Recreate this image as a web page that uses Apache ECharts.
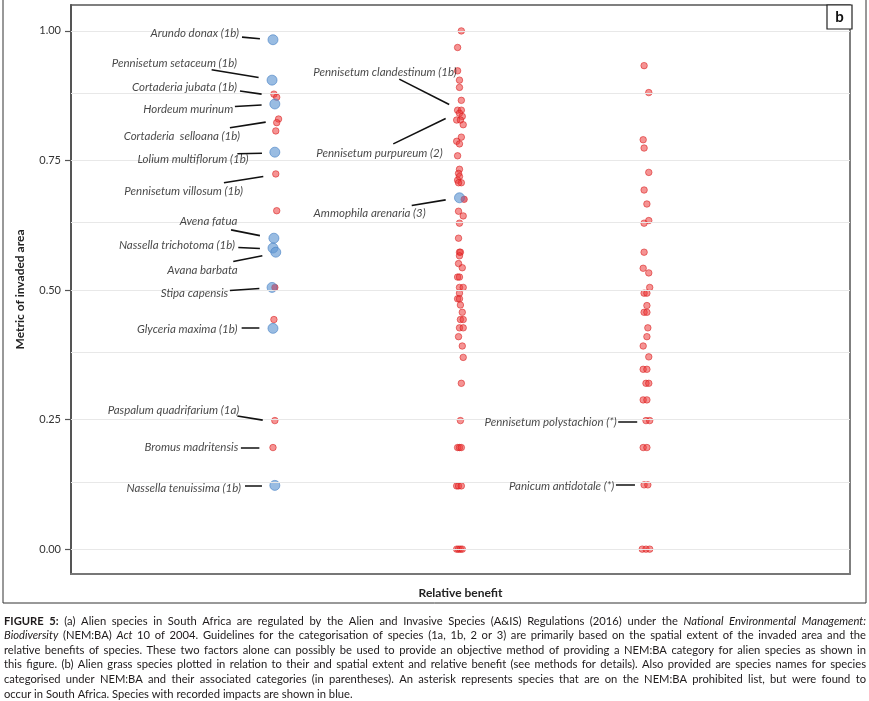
<!DOCTYPE html>
<html><head><meta charset="utf-8">
<script src="https://cdn.jsdelivr.net/npm/echarts@6/dist/echarts.min.js"></script>
<style>html,body{margin:0;padding:0;background:#fff}#c{width:869px;height:701px}</style>
</head><body><div id="c"></div>
<script>
// ---- data ----
const yTicks = [0, 0.25, 0.5, 0.75, 1.0];
const gridLevels = [0, 0.125, 0.25, 0.375, 0.5, 0.625, 0.75, 0.875, 1.0];

// species with recorded impacts (blue): [relative benefit (jittered), metric of invaded area]
const blueValues = [
  [1.00,0.983],[0.995,0.905],[1.01,0.859],[1.01,0.766],[1.005,0.600],
  [1.00,0.581],[1.015,0.573],[0.995,0.505],[1.00,0.426],[1.01,0.123],
  [2.00,0.678]
];
// other species (red)
const redCol1 = [
  [1.005,0.878],[1.02,0.872],[1.03,0.830],[1.02,0.823],[1.015,0.807],[1.015,0.724],
  [1.02,0.653],[1.01,0.505],[1.005,0.443],[1.01,0.248],[1.00,0.196]
];
const redCol2 = [
  [2.01,1.00],[1.99,0.968],[1.99,0.923],[2.00,0.905],[2.00,0.891],[2.01,0.866],
  [1.99,0.847],[2.01,0.847],[2.00,0.841],[2.015,0.835],[1.985,0.828],[2.005,0.828],
  [2.02,0.819],[2.01,0.795],[1.985,0.787],[2.00,0.782],[1.99,0.759],[2.00,0.733],
  [1.995,0.725],[2.00,0.719],[1.99,0.712],[2.01,0.707],[1.995,0.707],[2.025,0.675],
  [1.995,0.652],[2.02,0.643],[2.00,0.629],[1.995,0.600],[2.00,0.573],[2.005,0.573],
  [2.00,0.566],[1.995,0.551],[2.015,0.543],[1.99,0.525],[2.00,0.525],[2.00,0.505],
  [2.02,0.505],[2.00,0.494],[1.99,0.483],[2.00,0.483],[2.005,0.471],[2.015,0.457],
  [2.005,0.443],[2.02,0.443],[2.00,0.427],[2.02,0.427],[1.995,0.410],[2.015,0.392],
  [2.02,0.370],[2.01,0.320],[2.005,0.248],[1.99,0.196],[2.00,0.196],[2.01,0.196],
  [1.985,0.122],[1.995,0.122],[2.01,0.122],[1.985,0.0],[1.995,0.0],[2.005,0.0],[2.015,0.0]
];
const redCol3 = [
  [2.99,0.933],[3.015,0.881],[2.985,0.790],[2.99,0.774],[3.015,0.727],[2.99,0.693],
  [3.005,0.666],[2.99,0.629],[3.015,0.634],[2.99,0.573],[2.985,0.542],[3.015,0.533],
  [3.02,0.505],[2.99,0.494],[3.005,0.494],[3.005,0.470],[2.99,0.457],[3.005,0.457],
  [3.01,0.427],[3.005,0.410],[2.985,0.392],[3.015,0.371],[2.985,0.347],[3.005,0.347],
  [3.00,0.320],[3.015,0.320],[2.985,0.288],[3.005,0.288],[3.00,0.248],[3.02,0.248],
  [2.985,0.196],[3.005,0.196],[2.99,0.124],[3.01,0.124],[2.98,0.0],[3.00,0.0],[3.02,0.0]
];

// species annotations (data coordinates)
const annoNames = [
  "Arundo donax (1b)","Pennisetum setaceum (1b)","Cortaderia jubata (1b)","Hordeum murinum",
  "Cortaderia  selloana (1b)","Lolium multiflorum (1b)","Pennisetum villosum (1b)","Avena fatua",
  "Nassella trichotoma (1b)","Avana barbata","Stipa capensis","Glyceria maxima (1b)",
  "Paspalum quadrifarium (1a)","Bromus madritensis","Nassella tenuissima (1b)",
  "Pennisetum clandestinum (1b)","Pennisetum purpureum (2)","Ammophila arenaria (3)",
  "Pennisetum polystachion (*)","Panicum antidotale (*)"
];
const annoAnchors = [
  [0.818,0.996],[0.807,0.938],[0.807,0.891],[0.787,0.849],[0.823,0.797],[0.868,0.752],
  [0.839,0.691],[0.809,0.632],[0.796,0.586],[0.811,0.539],[0.760,0.494],[0.809,0.424],
  [0.819,0.268],[0.814,0.196],[0.828,0.117],[1.985,0.921],[1.910,0.764],[1.819,0.649],
  [2.843,0.245],[2.830,0.122]
];
const leaderFrom = [
  [0.834,0.988],[0.671,0.925],[0.823,0.884],[0.796,0.854],[0.769,0.813],[0.809,0.763],
  [0.737,0.707],[0.775,0.616],[0.814,0.582],[0.787,0.555],[0.769,0.499],[0.832,0.427],
  [0.809,0.257],[0.828,0.196],[0.850,0.122],[1.677,0.907],[1.645,0.782],[1.744,0.663],
  [2.851,0.245],[2.839,0.124]
];
const leaderTo = [
  [0.930,0.985],[0.923,0.910],[0.939,0.878],[0.939,0.857],[0.961,0.824],[0.941,0.764],
  [0.948,0.719],[0.930,0.605],[0.930,0.580],[0.943,0.566],[0.927,0.503],[0.927,0.427],
  [0.945,0.249],[0.927,0.196],[0.941,0.122],[1.945,0.858],[1.926,0.831],[1.926,0.674],
  [2.953,0.245],[2.941,0.124]
];

const captionLines = [
  "^FIGURE^ ^5:^ (a) Alien species in South Africa are regulated by the Alien and Invasive Species (A&IS) Regulations (2016) under the _National_ _Environmental_ _Management:_",
  "_Biodiversity_ (NEM:BA) _Act_ 10 of 2004. Guidelines for the categorisation of species (1a, 1b, 2 or 3) are primarily based on the spatial extent of the invaded area and the",
  "relative benefits of species. These two factors alone can possibly be used to provide an objective method of providing a NEM:BA category for alien species as shown in",
  "this figure. (b) Alien grass species plotted in relation to their and spatial extent and relative benefit (see methods for details). Also provided are species names for species",
  "categorised under NEM:BA and their associated categories (in parentheses). An asterisk represents species that are on the NEM:BA prohibited list, but were found to",
  "occur in South Africa. Species with recorded impacts are shown in blue."
];

// ---- chart ----
const chart = echarts.init(document.getElementById('c'), null, {renderer: 'canvas'});
const FONT = 'Lato, "Open Sans", sans-serif';
const redStyle = {color: 'rgba(236,55,55,0.68)', borderColor: 'rgba(215,25,25,0.85)', borderWidth: 0.8};
const blueStyle = {color: 'rgba(95,150,210,0.8)', borderColor: 'rgba(70,128,195,0.95)', borderWidth: 0.8};

// caption layout (justified words)
const capLeft = 4, capRight = 866, capTop = 621, capStep = 14.6, capSize = 11.2;
const mctx = document.createElement('canvas').getContext('2d');
const capGraphics = [];
captionLines.forEach((line, i) => {
  const words = line.split(' ').filter(Boolean).map(w => {
    let bold = false, italic = false, t = w;
    if (t.startsWith('^') && t.endsWith('^')) { bold = true; t = t.slice(1, -1); }
    if (t.startsWith('_') && t.endsWith('_')) { italic = true; t = t.slice(1, -1); }
    const font = (italic ? 'italic ' : '') + (bold ? 'bold ' : '') + capSize + 'px ' + FONT;
    mctx.font = font;
    return {t, font, w: mctx.measureText(t).width};
  });
  const total = words.reduce((s, w) => s + w.w, 0);
  mctx.font = capSize + 'px ' + FONT;
  const sp = mctx.measureText(' ').width;
  const last = i === captionLines.length - 1;
  const gap = last ? sp : (capRight - capLeft - total) / (words.length - 1);
  let x = capLeft;
  const y = capTop + i * capStep;
  words.forEach(w => {
    capGraphics.push({type: 'text', x: x, y: y, silent: true,
      style: {text: w.t, font: w.font, fill: '#1e1a1b', textAlign: 'left', textVerticalAlign: 'middle'}});
    x += w.w + gap;
  });
});

const option = {
  animation: false,
  backgroundColor: '#fff',
  grid: {left: 71, top: 5, right: 19, bottom: 127, show: true, borderColor: '#555', borderWidth: 1.5},
  xAxis: {
    type: 'value', min: -0.083, max: 4.094,
    name: 'Relative benefit', nameLocation: 'middle', nameGap: 13,
    nameTextStyle: {fontFamily: FONT, fontWeight: 'bold', fontSize: 12, color: '#222'},
    axisLine: {show: true, onZero: false, lineStyle: {color: '#777', width: 2}},
    axisTick: {show: false}, axisLabel: {show: false}, splitLine: {show: false}
  },
  yAxis: {
    type: 'value', min: -0.048, max: 1.05,
    name: 'Metric of invaded area', nameLocation: 'middle', nameGap: 45,
    nameTextStyle: {fontFamily: FONT, fontWeight: 'bold', fontSize: 12, color: '#222'},
    axisLine: {show: true, onZero: false, lineStyle: {color: '#555', width: 2}},
    axisTick: {show: true, length: 6, customValues: yTicks, lineStyle: {color: '#555', width: 1.2}},
    axisLabel: {customValues: yTicks, margin: 10, formatter: v => v.toFixed(2),
      fontFamily: FONT, fontSize: 11, color: '#333'},
    splitLine: {show: false}
  },
  series: [
    {type: 'scatter', data: [], z: 1, silent: true,
      markLine: {silent: true, symbol: 'none', label: {show: false}, animation: false,
        lineStyle: {color: '#e8e8e8', width: 1.2, type: 'solid'},
        data: gridLevels.map(v => ({yAxis: v}))}},
    {type: 'scatter', name: 'other', data: redCol1.concat(redCol2, redCol3), symbolSize: 6.5,
      itemStyle: redStyle, z: 3, silent: true},
    {type: 'scatter', name: 'impact', data: blueValues, symbolSize: 10,
      itemStyle: blueStyle, z: 4, silent: true},
    {type: 'scatter', name: 'impact-red-over', data: [[1.01,0.505],[2.025,0.675]], symbolSize: 6,
      itemStyle: {color: 'rgba(200,60,90,0.5)', borderWidth: 0}, z: 5, silent: true},
    {type: 'lines', coordinateSystem: 'cartesian2d', z: 6, silent: true,
      data: leaderFrom.map((p, i) => ({coords: [p, leaderTo[i]]})),
      lineStyle: {color: '#111', width: 1.6, opacity: 1, curveness: 0}},
    {type: 'scatter', z: 7, silent: true, symbolSize: 0,
      data: annoAnchors.map((p, i) => ({value: p, name: annoNames[i]})),
      label: {show: true, position: 'left', distance: 0, formatter: '{b}',
        fontFamily: FONT, fontStyle: 'italic', fontSize: 11.5, color: '#161616'}}
  ],
  graphic: [
    {type: 'rect', silent: true, shape: {x: 3, y: -5, width: 863, height: 608},
      style: {fill: 'none', stroke: '#333', lineWidth: 1}},
    {type: 'rect', silent: true, shape: {x: 827, y: 5, width: 25, height: 24},
      style: {fill: '#fff', stroke: '#222', lineWidth: 1.2}},
    {type: 'text', silent: true, x: 839.5, y: 17.5,
      style: {text: 'b', font: 'bold 15px ' + FONT, fill: '#111', textAlign: 'center', textVerticalAlign: 'middle'}}
  ].concat(capGraphics)
};
chart.setOption(option);
</script></body></html>
